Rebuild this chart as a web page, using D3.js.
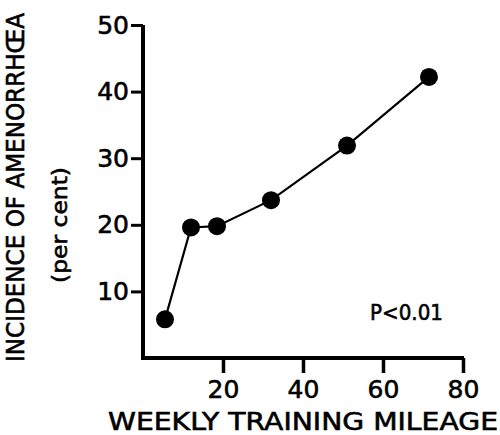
<!DOCTYPE html>
<html>
<head>
<meta charset="utf-8">
<script src="https://cdn.jsdelivr.net/npm/d3@7"></script>
<style>
  body { margin: 0; background: #fff; }
  svg text { font-family: "DejaVu Sans", sans-serif; fill: #000; stroke: #000; stroke-width: 0.6px; }
</style>
</head>
<body>
<div id="vis-container"></div>
<script>
// weekly training mileage vs incidence of amenorrhoea
const mileage = [5.5, 12, 18.5, 32, 51, 71.5];
const incidence = [5.8, 19.6, 19.8, 23.7, 31.9, 42.2];
const xTicks = [20, 40, 60, 80];
const yTicks = [10, 20, 30, 40, 50];

const width = 500, height = 435;

let data = mileage.map((m, i) => ({ x: m, y: incidence[i] }));

let x = d3.scaleLinear().domain([0, 80]).range([143, 463]);
let y = d3.scaleLinear().domain([0, 50]).range([358, 25]);

let svg = d3.select('#vis-container')
  .append('svg')
  .attr('width', width)
  .attr('height', height);

// x axis
let gx = svg.append("g")
  .attr("transform", "translate(0," + y(0) + ")")
  .call(d3.axisBottom(x).tickValues(xTicks).tickSize(15).tickSizeOuter(0).tickPadding(7));
gx.select(".domain").attr("stroke", "#000").attr("stroke-width", 4).attr("d", `M${x(0) - 2},0H${x(80) + 1}`);
gx.selectAll(".tick line").attr("stroke", "#000").attr("stroke-width", 3.5);
gx.selectAll(".tick text").attr("font-size", 25).attr("font-family", "DejaVu Sans");

// y axis
let gy = svg.append("g")
  .attr("transform", "translate(" + x(0) + ",0)")
  .call(d3.axisLeft(y).tickValues(yTicks).tickSize(12).tickSizeOuter(0).tickPadding(2));
gy.select(".domain").attr("stroke", "#000").attr("stroke-width", 4).attr("d", `M0,${y(50)}V${y(0) + 1}`);
gy.selectAll(".tick line").attr("stroke", "#000").attr("stroke-width", 3);
gy.selectAll(".tick text").attr("font-size", 25).attr("font-family", "DejaVu Sans");

// line + points
let line = d3.line()
  .x(d => x(d.x))
  .y(d => y(d.y));

svg.append("path")
  .datum(data)
  .attr("fill", "none")
  .attr("stroke", "#000")
  .attr("stroke-width", 2.2)
  .attr("d", line);

svg.selectAll("circle")
  .data(data)
  .enter().append("circle")
  .attr("cx", d => x(d.x))
  .attr("cy", d => y(d.y))
  .attr("r", 9)
  .attr("fill", "#000");

// annotation
svg.append("text")
  .attr("x", 370)
  .attr("y", 320)
  .attr("font-size", 22)
  .attr("textLength", 73)
  .attr("lengthAdjust", "spacingAndGlyphs")
  .text("P<0.01");

// axis titles
svg.append("text")
  .attr("x", 303)
  .attr("y", 430)
  .attr("text-anchor", "middle")
  .attr("font-size", 24)
  .attr("textLength", 390)
  .attr("lengthAdjust", "spacingAndGlyphs")
  .text("WEEKLY TRAINING MILEAGE");

svg.append("text")
  .attr("transform", "translate(24,187.5) rotate(-90)")
  .attr("text-anchor", "middle")
  .attr("font-size", 24)
  .attr("textLength", 349)
  .attr("lengthAdjust", "spacingAndGlyphs")
  .text("INCIDENCE OF AMENORRHŒA");

svg.append("text")
  .attr("transform", "translate(67,225) rotate(-90)")
  .attr("text-anchor", "middle")
  .attr("font-size", 22)
  .attr("textLength", 116)
  .attr("lengthAdjust", "spacingAndGlyphs")
  .text("(per cent)");
</script>
</body>
</html>
